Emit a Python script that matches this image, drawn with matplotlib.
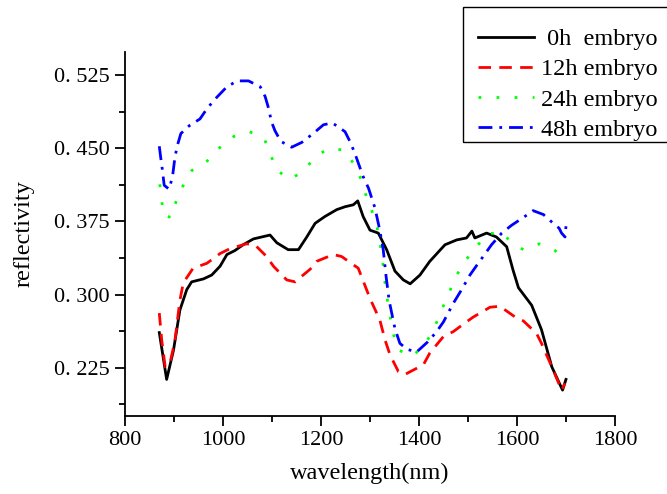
import numpy as np
import matplotlib
matplotlib.use("Agg")
import matplotlib.pyplot as plt
from matplotlib import rcParams
from matplotlib.patches import Rectangle
from matplotlib.ticker import FixedLocator, FixedFormatter, MultipleLocator

rcParams['font.family'] = 'Liberation Serif'
rcParams['font.size'] = 16

# -------------------------------
# data
# -------------------------------
wl_0h = [870, 885, 899, 912, 926, 936, 960, 977, 994, 1008, 1024, 1041, 1062, 1096,
         1110, 1133, 1154, 1171, 1188, 1208, 1232, 1249, 1266, 1275, 1286, 1300, 1317,
         1334, 1351, 1368, 1382, 1402, 1422, 1453, 1477, 1497, 1508, 1514, 1538, 1558,
         1579, 1592, 1603, 1630, 1650, 1671, 1693, 1700]
r_0h = [0.261, 0.213, 0.243, 0.284, 0.305, 0.313, 0.316, 0.320, 0.329, 0.341, 0.345,
        0.351, 0.357, 0.361, 0.353, 0.346, 0.346, 0.359, 0.373, 0.380, 0.387, 0.390,
        0.392, 0.396, 0.380, 0.366, 0.363, 0.346, 0.324, 0.315, 0.311, 0.320, 0.334,
        0.351, 0.356, 0.358, 0.365, 0.358, 0.363, 0.359, 0.349, 0.325, 0.307, 0.289,
        0.264, 0.226, 0.202, 0.213]

wl_12h = [870, 875, 882, 892, 902, 912, 919, 939, 967, 994, 1014, 1048, 1065, 1089,
          1103, 1130, 1147, 1178, 1191, 1225, 1242, 1276, 1283, 1300, 1320, 1331, 1341,
          1358, 1371, 1409, 1422, 1450, 1470, 1497, 1511, 1545, 1565, 1599, 1613, 1640,
          1650, 1671, 1691, 1698]
r_12h = [0.281, 0.253, 0.226, 0.230, 0.253, 0.294, 0.312, 0.327, 0.332, 0.342, 0.347,
         0.352, 0.351, 0.339, 0.329, 0.315, 0.313, 0.326, 0.334, 0.341, 0.339, 0.327,
         0.318, 0.296, 0.274, 0.253, 0.238, 0.221, 0.218, 0.228, 0.240, 0.257, 0.262,
         0.272, 0.277, 0.287, 0.288, 0.276, 0.273, 0.260, 0.250, 0.226, 0.202, 0.209]

wl_24h = [871, 875, 878, 895, 904, 918, 936, 968, 996, 1022, 1054, 1084, 1097, 1108,
          1137, 1165, 1188, 1216, 1247, 1267, 1282, 1291, 1303, 1314, 1320, 1325, 1332,
          1337, 1342, 1348, 1358, 1388, 1416, 1433, 1446, 1460, 1473, 1490, 1513, 1538,
          1569, 1589, 1613, 1646, 1678, 1696]
r_24h = [0.413, 0.397, 0.381, 0.379, 0.395, 0.411, 0.427, 0.437, 0.452, 0.462, 0.467,
         0.460, 0.444, 0.428, 0.418, 0.427, 0.441, 0.450, 0.448, 0.434, 0.418, 0.403,
         0.387, 0.370, 0.354, 0.338, 0.306, 0.290, 0.275, 0.259, 0.243, 0.237, 0.252,
         0.268, 0.284, 0.300, 0.316, 0.332, 0.346, 0.362, 0.364, 0.353, 0.346, 0.352,
         0.345, 0.336]

wl_48h = [870, 873, 876, 880, 890, 897, 902, 907, 914, 931, 953, 968, 987, 1008, 1029,
          1052, 1076, 1086, 1093, 1099, 1106, 1118, 1140, 1161, 1184, 1205, 1223, 1249,
          1259, 1269, 1276, 1286, 1297, 1310, 1320, 1327, 1333, 1339, 1346, 1351, 1361,
          1375, 1395, 1419, 1436, 1450, 1470, 1487, 1504, 1518, 1531, 1548, 1569, 1589,
          1613, 1633, 1654, 1674, 1686, 1691, 1698, 1700]
r_48h = [0.452, 0.440, 0.429, 0.412, 0.408, 0.421, 0.441, 0.453, 0.465, 0.473, 0.480,
         0.491, 0.502, 0.513, 0.519, 0.519, 0.513, 0.503, 0.491, 0.477, 0.468, 0.457,
         0.451, 0.456, 0.465, 0.474, 0.476, 0.467, 0.457, 0.445, 0.435, 0.421, 0.409,
         0.389, 0.366, 0.346, 0.318, 0.294, 0.277, 0.265, 0.250, 0.244, 0.241, 0.252,
         0.262, 0.272, 0.291, 0.305, 0.320, 0.330, 0.339, 0.351, 0.363, 0.371, 0.379,
         0.386, 0.382, 0.373, 0.368, 0.363, 0.359, 0.370]

labels = [" 0h  embryo", "12h embryo", "24h embryo", "48h embryo"]
y_ticks = [0.225, 0.300, 0.375, 0.450, 0.525]
y_tick_labels = ["0. 225", "0. 300", "0. 375", "0. 450", "0. 525"]

# -------------------------------
# figure
# -------------------------------
fig = plt.figure(figsize=(6.67, 4.94), dpi=100)
ax = fig.add_axes([0.1874, 0.1585, 0.7346, 0.7362])

ax.plot(wl_0h, r_0h, color="black", lw=2, label=labels[0])
ax.plot(wl_12h, r_12h, color="red", lw=2, ls=(0, (4.5, 3)), label=labels[1])
ax.plot(wl_24h, r_24h, color="#00ff00", lw=2, ls=(0, (1, 5.5)), label=labels[2])
ax.plot(wl_48h, r_48h, color="blue", lw=2, ls=(0, (5, 2.5, 1, 2.5)), label=labels[3])

ax.set_xlim(800, 1800)
ax.set_ylim(0.1758, 0.5486)
ax.xaxis.set_major_locator(MultipleLocator(200))
ax.xaxis.set_minor_locator(MultipleLocator(100))
ax.yaxis.set_major_locator(FixedLocator(y_ticks))
ax.yaxis.set_major_formatter(FixedFormatter(y_tick_labels))
ax.yaxis.set_minor_locator(FixedLocator([0.1875, 0.2625, 0.3375, 0.4125, 0.4875]))

for s in ["top", "right"]:
    ax.spines[s].set_visible(False)
for s in ["left", "bottom"]:
    ax.spines[s].set_linewidth(1.3)
ax.tick_params(which="major", direction="out", length=7, width=1.3, pad=4)
ax.tick_params(which="minor", direction="out", length=4, width=1.3)

ax.set_xlabel("wavelength(nm)", fontsize=17.5, labelpad=9)
ax.set_ylabel("reflectivity", fontsize=17.5, labelpad=14)

# -------------------------------
# legend: box runs off the right edge of the figure
# -------------------------------
frame = Rectangle((463 / 667, 1 - 142 / 494), 240 / 667, 135 / 494,
                  transform=fig.transFigure, fill=False, edgecolor="black", lw=1.0)
fig.add_artist(frame)

fig.legend(loc="upper left", bbox_to_anchor=(478 / 667, 1 - 28 / 494),
           bbox_transform=fig.transFigure, borderaxespad=0, borderpad=0,
           frameon=False, handlelength=2.3, handletextpad=0.3,
           labelspacing=0.34, fontsize=17.5)

plt.savefig("out.png", dpi=100)
